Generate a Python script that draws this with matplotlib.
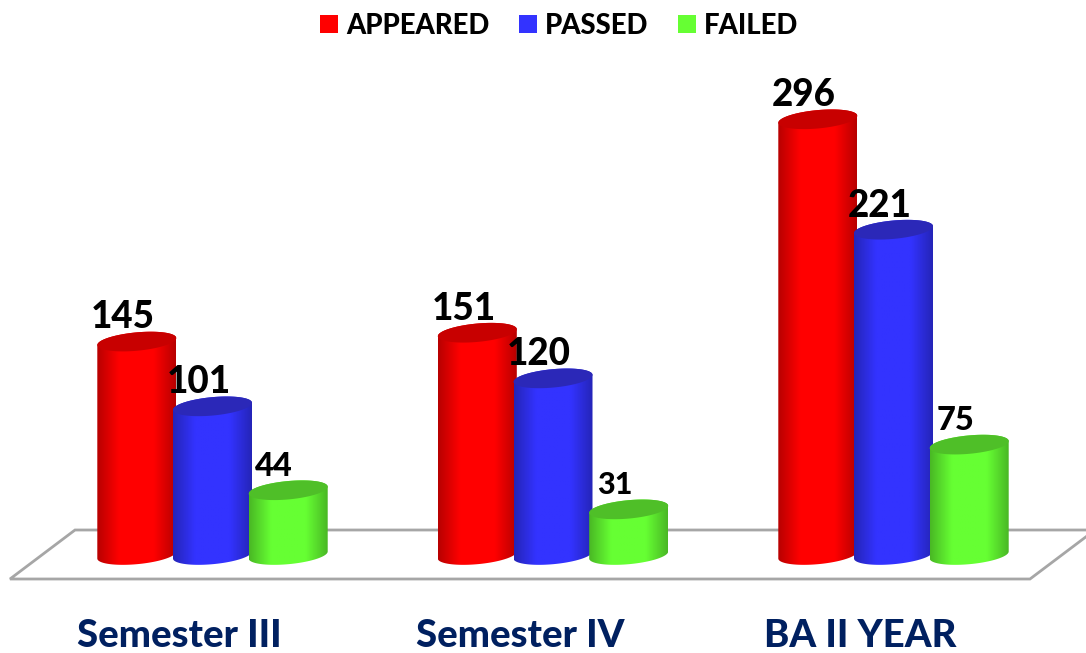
import matplotlib
matplotlib.use('Agg')
import matplotlib.pyplot as plt
import numpy as np
from matplotlib.colors import to_rgb
from matplotlib.patches import Patch, Polygon

categories = ['Semester III', 'Semester IV', 'BA II YEAR']
series_names = ['APPEARED', 'PASSED', 'FAILED']
appeared = [145, 151, 296]
passed = [101, 120, 221]
failed = [44, 31, 75]

side_colors = ['#FF0000', '#3333FF', '#66FF33']
top_colors = ['#C80000', '#2B28B8', '#4FBF28']
label_sizes = [[26.5, 26.5, 26.5], [26.5, 26.5, 26.5], [23.5, 22, 23.5]]

W, H = 1086, 653
PX_PER_UNIT = 1.472
BASE_PX = 555
GROUP_STEP = 340.5
FIRST_GROUP = 212.5
BAR_STEP = 75.7
RX = 39.5
SHEAR = 3.5
RY = 9.2

fig = plt.figure(figsize=(W / 100, H / 100), dpi=100)
ax = fig.add_axes([0, 0, 1, 1])
ax.set_axis_off()
plt.rcParams['font.family'] = ['Lato', 'DejaVu Sans']


def px_x(x):
    return (x - FIRST_GROUP) / GROUP_STEP


def px_y(y):
    return (BASE_PX - y) / PX_PER_UNIT


def ellipse(cx, value, t):
    # slightly tilted ellipse, cx in group units, result in data units
    x = cx + RX * np.cos(t) / GROUP_STEP
    y = value + (SHEAR * np.cos(t) + RY * np.sin(t)) / PX_PER_UNIT
    return x, y


def cylinder(cx, value, side, top, z):
    t_low = np.linspace(np.pi, 2 * np.pi, 60)
    t_high = np.linspace(0, np.pi, 60)
    # t runs the lower half of the base, then back along the upper half of the top
    bx, by = ellipse(cx, 0, t_low)
    tx, ty = ellipse(cx, value, t_high)
    outline = Polygon(np.column_stack([np.r_[bx, tx], np.r_[by, ty]]),
                      closed=True, transform=ax.transData, fc='none', ec='none')
    ax.add_patch(outline)
    shade = np.interp(np.linspace(0, 1, 160), [0, 0.28, 0.72, 1], [0.72, 1, 1, 0.72])
    img = np.outer(shade, to_rgb(side)).reshape(1, 160, 3)
    im = ax.imshow(img, extent=[cx - RX / GROUP_STEP, cx + RX / GROUP_STEP,
                                -15, value + 15],
                   aspect='auto', zorder=z, interpolation='bilinear')
    im.set_clip_path(outline)
    ex, ey = ellipse(cx, value, np.linspace(0, 2 * np.pi, 120))
    ax.fill(ex, ey, color=top, lw=0, zorder=z + 0.1)


# floor of the 3d plot
floor_color = '#A6A6A6'
ax.plot(px_x(np.array([1100, 75, 10, 1030, 1095])),
        px_y(np.array([530, 530, 579, 579, 530])),
        color=floor_color, lw=2, solid_joinstyle='miter', zorder=1)

all_series = [appeared, passed, failed]
for s, values in enumerate(all_series):
    for g, value in enumerate(values):
        cx = g + (s - 1) * BAR_STEP / GROUP_STEP
        cylinder(cx, value, side_colors[s], top_colors[s], 2 + s + g * 3)
        ax.annotate(str(value), (cx, value), xytext=(-10, 17.4),
                    textcoords='offset points', ha='center', va='center',
                    fontsize=label_sizes[s][g], fontweight='black', color='black',
                    zorder=20)

for g, name in enumerate(categories):
    ax.text(g - 33 / GROUP_STEP, px_y(636), name,
            ha='center', va='center', fontsize=27.5, fontweight='black',
            color='#002060', zorder=20)

ax.set_xlim(px_x(0), px_x(W))
ax.set_ylim(px_y(H), px_y(0))

handles = [Patch(fc=c, ec='none', label=n) for c, n in zip(side_colors, series_names)]
leg = ax.legend(handles=handles, ncols=3, loc='center', frameon=False,
                bbox_to_anchor=(559.5 / W, 1 - 25.5 / H), prop={'weight': 'black', 'size': 19.8},
                handlelength=0.66, handleheight=0.66, handletextpad=0.29,
                columnspacing=1.07, borderpad=0, borderaxespad=0)

fig.savefig('out.png', dpi=100, facecolor='white')
